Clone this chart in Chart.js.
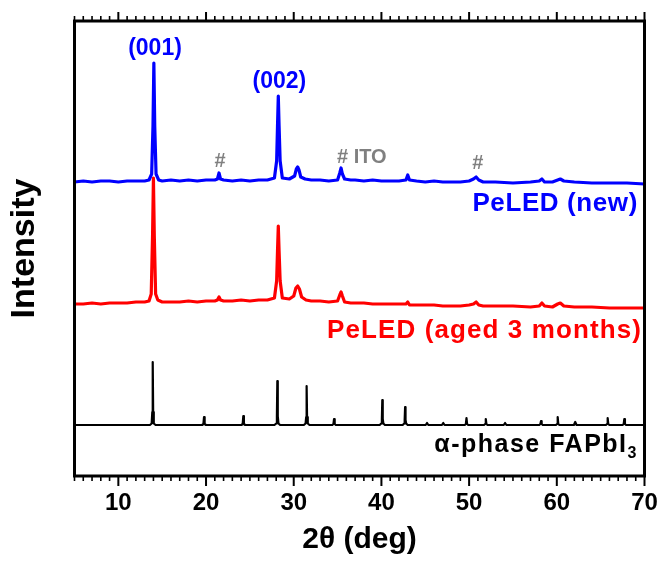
<!DOCTYPE html>
<html><head><meta charset="utf-8">
<script src="https://cdn.jsdelivr.net/npm/chart.js@4/dist/chart.umd.min.js"></script>
<style>html,body{margin:0;padding:0;background:#fff;}#wrap{width:665px;height:561px;}</style>
</head><body><div id="wrap"><canvas id="c" width="665" height="561"></canvas></div>
<script>
// ---- data (2θ in degrees, intensity in arbitrary offset units) ----
const xTickValues = [10, 20, 30, 40, 50, 60, 70];

const newTheta = [5,6,7,8,9,10,11,12,13,13.5,13.8,13.95,14.05,14.15,14.3,14.6,15,16,17,18,19,20,21,21.3,21.48,21.65,22,23,24,25,26,27,27.8,28.05,28.15,28.24,28.33,28.45,28.7,29.5,30.1,30.3,30.45,30.6,30.8,31.3,32,33,34,35,35.25,35.4,35.55,35.8,36.5,37,38,39,40,41,42,42.8,43.0,43.2,44,45,46,47,48,49,50,50.5,50.8,51.1,51.6,53,55,57,58,58.3,58.6,59.5,60.1,60.4,60.8,62,64,66,68,70];
const newIntensity = [294,295,294,295,295,294,295,295,295,296,302,350,413,350,302,296,295,296,295,296,295,296,296,297,303,297,296,295,296,295,296,296,298,315,350,380,350,315,298,297,300,307,309,306,299,297,296,296,295,296,303,308,302,297,296,296,295,296,295,295,295,296,301,296,295,294,295,294,294,294,295,297,299,296,294,294,293,294,295,297,294,294,296,297,295,294,293,293,293,292];

const agedTheta = [5,6,7,8,9,10,11,12,13,13.5,13.75,13.9,14.0,14.1,14.25,14.5,15,16,17,18,19,20,21,21.3,21.48,21.65,22,23,24,25,26,27,27.8,28.05,28.15,28.24,28.33,28.45,28.7,29.5,30.0,30.25,30.45,30.65,30.9,31.4,32,33,34,35,35.25,35.4,35.55,35.8,36.5,37,38,39,40,41,42,42.8,43.0,43.2,44,45,46,47,48,49,50,50.5,50.8,51.1,51.6,53,55,57,58,58.3,58.6,59.5,60.1,60.4,60.8,62,64,66,68,70];
const agedIntensity = [172,172,173,172,173,173,173,174,174,175,182,240,298,240,182,176,174,174,174,175,174,175,175,176,179,176,175,175,176,175,176,176,178,195,225,250,225,195,178,177,180,188,190,187,179,176,175,175,174,175,181,184,180,174,173,173,173,172,172,172,172,172,174,171,171,171,171,170,170,170,171,172,174,171,170,170,170,169,170,173,170,169,172,173,170,169,169,168,168,168];

const refTheta = [5,13.6,13.8,13.87,13.92,13.97,14.04,14.25,19.55,19.7,19.77,19.84,20.0,24.03,24.18,24.25,24.32,24.47,27.8,28.0,28.08,28.13,28.18,28.26,28.45,31.15,31.35,31.42,31.47,31.52,31.6,31.8,34.4,34.53,34.6,34.67,34.8,39.8,39.98,40.05,40.1,40.15,40.22,40.4,42.42,42.6,42.65,42.7,42.75,42.82,43.0,45.05,45.2,45.35,46.9,47.05,47.2,49.5,49.63,49.7,49.77,49.9,51.7,51.83,51.9,51.97,52.1,53.95,54.1,54.25,58.0,58.13,58.2,58.27,58.4,59.9,60.03,60.1,60.17,60.3,61.95,62.1,62.25,65.6,65.73,65.8,65.87,66.0,67.5,67.63,67.7,67.77,67.9,70];
const refIntensity = [51,51,52.5,64,114,64,52.5,51,51,52,59,52,51,51,52,60,52,51,51,52.5,60,95,60,52.5,51,51,52.5,59,90,59,52.5,51,51,52,57,52,51,51,52.5,57,76,57,52.5,51,51,52.5,56,69,56,52.5,51,51,53,51,51,53,51,51,52,58,52,51,51,52,57,52,51,51,53,51,51,52,55,52,51,51,52,59,52,51,51,54,51,51,52,58,52,51,51,52,57,52,51,51];

const labelTexts = ['(001)', '(002)', '#', '# ITO', '#', 'PeLED (new)', 'PeLED (aged 3 months)', 'α-phase FAPbI'];
const labelTheta = [14.18, 28.37, 21.6, 34.93, 51.0, 69.25, 69.71, 69.25];
const labelLevel = [421, 388, 309, 313, 307, 265, 138, 24];

// ---- styles ----
const FONT = '"Liberation Sans", Arial, Helvetica, sans-serif';
const BLUE = '#0000ff', RED = '#ff0000', GREY = '#808080';
const labelStyle = [
  {color: BLUE, size: 23, align: 'center', sp: 0},
  {color: BLUE, size: 23, align: 'center', sp: 0},
  {color: GREY, size: 20, align: 'center', sp: 0},
  {color: GREY, size: 20, align: 'left', sp: 0},
  {color: GREY, size: 20, align: 'center', sp: 0},
  {color: BLUE, size: 26, align: 'right', sp: 0.6},
  {color: RED, size: 26, align: 'right', sp: 1.1},
  {color: '#000', size: 25, align: 'right', sp: 1.5, sub: '3'}
];

function pts(xs, ys) { return xs.map((v, i) => ({x: v, y: ys[i]})); }

const overlay = {
  id: 'overlay',
  afterDatasetsDraw(chart) {
    const {ctx, chartArea: a, scales: {x, y}} = chart;
    ctx.save();
    labelTexts.forEach((t, i) => {
      const s = labelStyle[i];
      const px = x.getPixelForValue(labelTheta[i]);
      const py = y.getPixelForValue(labelLevel[i]);
      ctx.fillStyle = s.color;
      ctx.textBaseline = 'alphabetic';
      ctx.letterSpacing = s.sp + 'px';
      ctx.font = 'bold ' + s.size + 'px ' + FONT;
      if (s.sub) {
        const mainW = ctx.measureText(t).width;
        ctx.font = 'bold ' + Math.round(s.size * 0.65) + 'px ' + FONT;
        const subW = ctx.measureText(s.sub).width;
        ctx.textAlign = 'left';
        ctx.fillText(s.sub, px - subW, py + 6);
        ctx.font = 'bold ' + s.size + 'px ' + FONT;
        ctx.fillText(t, px - subW - mainW, py);
      } else {
        ctx.textAlign = s.align;
        ctx.fillText(t, px, py);
      }
    });
    ctx.letterSpacing = '0px';
    ctx.strokeStyle = '#000';
    ctx.lineWidth = 3;
    ctx.strokeRect(a.left, a.top, a.right - a.left, a.bottom - a.top);
    for (let v = x.min; v <= x.max; v += 1) {
      const px = x.getPixelForValue(v);
      const major = v % 10 === 0;
      ctx.lineWidth = major ? 2 : 1.6;
      ctx.beginPath();
      ctx.moveTo(px, a.top); ctx.lineTo(px, a.top - (major ? 9 : 5));
      ctx.moveTo(px, a.bottom); ctx.lineTo(px, a.bottom + (major ? 10 : 5));
      ctx.stroke();
    }
    ctx.restore();
  }
};

const lineStyle = {showLine: true, pointRadius: 0, tension: 0, borderJoinStyle: 'round', borderCapStyle: 'round'};

new Chart(document.getElementById('c'), {
  type: 'scatter',
  data: {
    datasets: [
      Object.assign({label: 'PeLED (new)', data: pts(newTheta, newIntensity), borderColor: BLUE, borderWidth: 3.2}, lineStyle),
      Object.assign({label: 'PeLED (aged 3 months)', data: pts(agedTheta, agedIntensity), borderColor: RED, borderWidth: 3.2}, lineStyle),
      Object.assign({label: 'α-phase FAPbI3', data: pts(refTheta, refIntensity), borderColor: '#000', borderWidth: 2.2}, lineStyle)
    ]
  },
  options: {
    responsive: false,
    animation: false,
    devicePixelRatio: 1,
    layout: {padding: {left: 0, right: 20.5, top: 21, bottom: 0}},
    plugins: {legend: {display: false}, tooltip: {enabled: false}},
    scales: {
      x: {
        type: 'linear', position: 'bottom', min: 5, max: 70,
        afterBuildTicks: (s) => { s.ticks = xTickValues.map(v => ({value: v})); },
        afterFit: (s) => { s.height = 85; },
        ticks: {color: '#000', font: {family: FONT, size: 24, weight: 'bold'}, padding: 3.3, maxRotation: 0, autoSkip: false},
        grid: {display: true, drawOnChartArea: false, drawTicks: true, tickLength: 10, color: 'rgba(0,0,0,0)'},
        border: {display: false},
        title: {display: true, text: '2θ (deg)', color: '#000', font: {family: FONT, size: 30, weight: 'bold'}, padding: {top: 0, bottom: 3.4}}
      },
      y: {
        type: 'linear', position: 'left', min: 0, max: 455,
        afterFit: (s) => { s.width = 74.5; },
        ticks: {display: false},
        grid: {display: false},
        border: {display: false},
        title: {display: true, text: 'Intensity', color: '#000', font: {family: FONT, size: 34, weight: 'bold'}, padding: {top: 3.8, bottom: 0}}
      }
    }
  },
  plugins: [overlay]
});
</script>
</body></html>
